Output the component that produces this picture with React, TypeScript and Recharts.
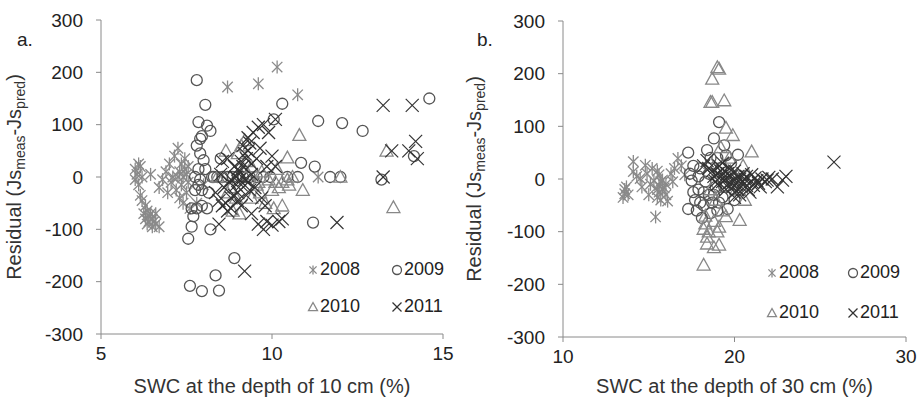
import React from 'react';
import { ScatterChart, Scatter, XAxis, YAxis, Label } from 'recharts';

// SWC 10 cm panel (a)
const a2008 = [
  [6.0, 15], [6.05, 5], [6.1, 25], [6.15, 20], [6.0, -5], [6.1, -15], [6.2, 0], [6.15, -35],
  [6.2, -45], [6.3, -55], [6.35, -65], [6.4, -75], [6.45, -70], [6.5, -80], [6.55, -85],
  [6.6, -90], [6.5, -95], [6.4, -85], [6.3, -80], [6.6, -70], [6.7, -95], [6.45, 5], [6.7, -20],
  [6.8, -5], [6.9, 10], [7.0, 25], [7.05, -10], [7.15, 40], [7.25, 55], [7.3, 10], [7.35, 25],
  [7.4, 0], [7.45, 15], [7.5, 5], [7.2, -25], [7.3, -40], [7.4, -50], [7.5, -30], [7.55, -10],
  [7.6, -60], [7.35, -15], [7.1, 0], [6.95, -30], [8.7, 172], [9.6, 178], [10.15, 210],
  [10.75, 157], [11.35, 0], [8.0, -15], [7.8, -50], [7.45, 35], [7.55, 20], [7.25, 0],
  [6.25, -70], [6.35, -90],
];
const a2009 = [
  [7.8, 185], [8.05, 138], [7.85, 105], [8.1, 98], [8.2, 88], [7.95, 78], [7.9, 73], [7.8, 60],
  [7.9, 45], [8.0, 32], [7.85, 15], [7.75, 0], [7.85, -15], [7.75, -25], [7.65, -60], [7.8, -60],
  [7.95, -55], [8.1, -60], [7.65, -95], [7.55, -118], [8.2, -100], [7.6, -208], [7.95, -218],
  [8.35, -188], [8.45, -217], [8.9, -155], [8.25, 0], [8.4, 0], [8.55, 0], [8.7, 0], [8.85, 0],
  [9.0, 0], [9.15, 0], [9.35, 0], [9.55, 0], [9.75, 0], [9.95, 0], [8.5, 35], [10.3, 140],
  [10.05, 110], [11.35, 107], [12.05, 103], [12.65, 88], [14.6, 150], [10.85, 27], [11.25, 20],
  [11.7, 0], [12.0, 0], [13.2, -5], [14.15, 40], [11.2, -87], [8.15, -30], [7.95, -25],
  [10.45, 0], [10.75, 0], [7.7, -75], [7.9, -5], [8.05, 15], [8.3, 0], [9.25, 0],
];
const a2010 = [
  [10.8, 80], [10.45, 37], [10.15, 15], [10.3, -10], [10.5, -15], [10.6, 0], [10.9, -25],
  [10.3, -55], [13.55, -58], [13.35, 50], [12.0, 0], [9.55, -15], [9.65, -30], [9.8, -50],
  [9.25, 30], [9.0, 45], [8.65, 50], [8.85, -65], [9.05, -70], [8.4, 0], [9.4, 20], [10.0, -25],
  [9.9, -5], [10.05, -60], [9.2, 70], [8.95, -40], [9.7, 10], [10.2, -20], [10.45, -5],
  [9.4, -40], [8.7, -30], [9.1, 60], [9.3, 5], [8.8, -20], [9.6, -10], [10.1, -10],
];
const a2011 = [
  [8.55, -55], [8.7, -65], [8.8, -60], [8.45, -45], [8.35, -30], [8.6, -20], [8.75, -10],
  [8.95, 0], [9.05, 10], [9.15, 20], [9.25, 35], [9.3, 50], [9.15, 60], [9.3, 75], [9.45, 85],
  [9.6, 95], [9.75, 100], [9.9, 85], [10.1, 110], [9.0, -30], [9.1, -15], [8.9, 20], [8.7, 35],
  [8.55, 30], [9.0, -45], [9.5, -20], [9.4, -70], [9.6, -90], [9.75, -100], [9.85, -85],
  [10.0, -92], [10.2, -85], [9.8, -55], [10.0, 40], [10.1, 20], [9.2, -180], [8.45, -90],
  [11.9, -87], [13.25, 137], [14.1, 137], [13.25, 0], [13.5, 50], [14.0, 50], [14.2, 68],
  [14.25, 35], [8.8, -5], [9.2, -5], [9.3, -10], [9.4, 5], [9.55, 35], [9.1, -55], [8.65, -50],
  [9.35, -25], [8.9, -35], [9.0, 15], [9.7, -40], [10.3, -80], [8.5, 5], [9.65, 55], [9.85, 20],
  [9.2, 45], [9.35, 65], [9.1, 30], [8.95, -15], [9.25, -35], [8.8, -40], [9.05, -5],
  [9.4, 25],
];

// SWC 30 cm panel (b)
const b2008 = [
  [13.5, -35], [13.6, -20], [13.7, -15], [14.1, 33], [14.1, 14], [14.3, 5], [14.5, 1],
  [14.8, 26], [14.9, 10], [15.1, -10], [15.3, -4], [15.5, -35], [15.4, -72], [15.6, 8],
  [15.7, -5], [15.8, -20], [15.9, -17], [16.0, -30], [16.1, -42], [15.6, -25], [15.7, -40],
  [16.3, 10], [16.5, 20], [16.7, 39], [16.9, 25], [17.1, 8], [14.6, -15], [15.0, -30],
  [15.5, 15], [16.4, -5], [13.8, -30], [15.2, 20], [15.6, -12], [15.8, -2], [15.5, -20],
  [16.0, -10], [13.6, -28],
];
const b2009 = [
  [17.3, 50], [17.3, -57], [17.7, -40], [17.5, -3], [17.4, 10], [18.8, 77], [19.1, 108],
  [19.4, 64], [18.6, 40], [20.2, 46], [19.6, -57], [18.1, -74], [18.5, -30], [17.9, -20],
  [18.0, 20], [18.3, -5], [18.7, -45], [19.0, -60], [19.3, -35], [19.8, 30], [19.0, 40],
  [18.2, -50], [17.6, 25], [17.8, -60], [18.9, -15], [19.5, 45], [20.0, -40], [18.4, 55],
  [18.6, -65], [19.2, 20], [17.9, 5], [18.2, -25], [18.5, 10], [18.8, -30], [19.4, -15],
  [17.6, -25], [18.0, -45], [19.1, -45],
];
const b2010 = [
  [19.0, 212], [19.1, 209], [18.7, 190], [18.6, 146], [18.7, 146], [19.4, 149], [19.5, 97],
  [19.9, 83], [21.0, 52], [20.3, -78], [18.2, -163], [18.4, -123], [19.1, -125], [18.2, -95],
  [19.1, -91], [19.5, -71], [18.4, -110], [19.0, 12], [19.8, 12], [20.6, -40], [18.8, -80],
  [18.5, -100], [19.3, -60], [18.9, -40], [19.7, 40], [18.3, -70], [20.1, -20], [19.2, 60],
  [18.6, 30], [20.5, 25], [18.8, -130], [18.3, -85], [19.0, -100], [18.6, -20],
];
const b2011 = [
  [18.2, 25], [18.5, 20], [18.7, 15], [19.0, 10], [19.2, 5], [19.5, 0], [19.8, -5], [20.1, -10],
  [20.4, -15], [20.7, -12], [21.0, -5], [21.3, -3], [21.6, 0], [21.9, -2], [22.2, 0],
  [22.5, -15], [23.0, 5], [22.8, -2], [19.0, -10], [19.5, -20], [20.0, -25], [20.3, -30],
  [19.7, 20], [20.0, 15], [20.5, 10], [21.0, 8], [19.3, 30], [18.9, -5], [20.8, -20],
  [21.5, -15], [25.8, 32], [19.6, -10], [20.2, 5], [20.6, 0], [21.2, 2], [18.4, 35], [19.4, 15],
  [20.9, -25], [19.9, -15], [20.3, 0], [21.4, -8], [19.1, 25], [21.8, -5], [20.0, -35],
  [22.0, 3], [18.8, 5], [19.3, -5], [19.6, 10], [20.1, 0], [20.5, -5], [19.8, 5],
  [20.7, 5], [21.1, -12], [20.2, -20], [19.2, 15],
];

const yTicks = [-300, -200, -100, 0, 100, 200, 300];
const aTicks = [5, 10, 15];
const bTicks = [10, 20, 30];
const years = ['2008', '2009', '2010', '2011'];

const FONT = '"Liberation Sans", Arial, sans-serif';
const toPts = (arr: number[][]) => arr.map(([x, y]) => ({ x, y }));

const Star = ({ cx, cy, s = 6.5 }: any) => (
  <g stroke="#8a8a8a" strokeWidth={1.3}>
    <line x1={cx} y1={cy - s} x2={cx} y2={cy + s} />
    <line x1={cx - s * 0.8} y1={cy - s * 0.8} x2={cx + s * 0.8} y2={cy + s * 0.8} />
    <line x1={cx - s * 0.8} y1={cy + s * 0.8} x2={cx + s * 0.8} y2={cy - s * 0.8} />
  </g>
);
const Ring = ({ cx, cy, s = 5.5 }: any) => (
  <circle cx={cx} cy={cy} r={s} fill="none" stroke="#555" strokeWidth={1.3} />
);
const Tri = ({ cx, cy, s = 6.5 }: any) => (
  <polygon
    points={`${cx},${cy - s} ${cx + s},${cy + s * 0.8} ${cx - s},${cy + s * 0.8}`}
    fill="none"
    stroke="#888"
    strokeWidth={1.3}
  />
);
const Cross = ({ cx, cy, s = 6.5 }: any) => (
  <g stroke="#333" strokeWidth={1.2}>
    <line x1={cx - s} y1={cy - s} x2={cx + s} y2={cy + s} />
    <line x1={cx - s} y1={cy + s} x2={cx + s} y2={cy - s} />
  </g>
);
const MARKERS = [Star, Ring, Tri, Cross];

const YTitle = ({ viewBox, dx }: any) => {
  const x = viewBox.x + dx;
  const y = viewBox.y + viewBox.height / 2;
  return (
    <text
      x={x}
      y={y}
      transform={`rotate(-90, ${x}, ${y})`}
      textAnchor="middle"
      fill="#333"
      fontSize={20}
      fontFamily={FONT}
    >
      <tspan>Residual (Js</tspan>
      <tspan dy={4} fontSize={14}>meas</tspan>
      <tspan dy={-4}>-Js</tspan>
      <tspan dy={4} fontSize={14}>pred</tspan>
      <tspan dy={-4}>)</tspan>
    </text>
  );
};

const MiniLegend = ({ left, top, gap, col }: any) => (
  <div style={{ position: 'absolute', left, top, fontFamily: FONT, fontSize: 18, color: '#222' }}>
    {years.map((yr, i) => {
      const M = MARKERS[i];
      return (
        <div
          key={yr}
          style={{
            position: 'absolute',
            left: (i % 2) * col,
            top: Math.floor(i / 2) * gap,
            display: 'flex',
            alignItems: 'center',
            whiteSpace: 'nowrap',
          }}
        >
          <svg width={12} height={12} style={{ marginRight: 1 }}>
            <M cx={6} cy={6} s={4.5} />
          </svg>
          {yr}
        </div>
      );
    })}
  </div>
);

const Panel = ({ series, domain, ticks, title, tag, left, width, margin, legend }: any) => (
  <div style={{ position: 'absolute', left, top: 0, width, height: 403 }}>
    <ScatterChart width={width} height={403} margin={margin}>
      <XAxis
        type="number"
        dataKey="x"
        domain={domain}
        ticks={ticks}
        height={margin.xh}
        stroke="#8a8a8a"
        tickSize={5}
        tickMargin={8}
        tick={{ fill: '#222', fontSize: 19, fontFamily: FONT }}
      >
        <Label
          value={title}
          position="insideBottom"
          offset={10}
          fill="#333"
          fontSize={20}
          fontFamily={FONT}
        />
      </XAxis>
      <YAxis
        type="number"
        dataKey="y"
        domain={[-300, 300]}
        ticks={yTicks}
        width={60}
        stroke="#8a8a8a"
        tickSize={5}
        tickMargin={13}
        tick={{ fill: '#222', fontSize: 19, fontFamily: FONT }}
      >
        <Label content={(p: any) => <YTitle {...p} dx={margin.ydx} />} />
      </YAxis>
      {series.map((d: number[][], i: number) => {
        const M = MARKERS[i];
        return (
          <Scatter
            key={years[i]}
            name={years[i]}
            data={toPts(d)}
            isAnimationActive={false}
            shape={(p: any) => <M cx={p.cx} cy={p.cy} />}
          />
        );
      })}
    </ScatterChart>
    <div
      style={{ position: 'absolute', left: 17, top: 29, fontFamily: FONT, fontSize: 19, color: '#222' }}
    >
      {tag}
    </div>
    <MiniLegend {...legend} />
  </div>
);

export default function App() {
  return (
    <div
      style={{ position: 'absolute', left: 0, top: 0, width: 921, height: 403, background: '#fff' }}
    >
      <Panel
        series={[a2008, a2009, a2010, a2011]}
        domain={[5, 15]}
        ticks={aTicks}
        title="SWC at the depth of 10 cm (%)"
        tag="a."
        left={0}
        width={460}
        margin={{ top: 20, right: 17, bottom: 0, left: 41, xh: 69, ydx: -20 }}
        legend={{ left: 307, top: 259, gap: 37, col: 84 }}
      />
      <Panel
        series={[b2008, b2009, b2010, b2011]}
        domain={[10, 30]}
        ticks={bTicks}
        title="SWC at the depth of 30 cm (%)"
        tag="b."
        left={460}
        width={461}
        margin={{ top: 21, right: 15, bottom: 0, left: 43, xh: 66, ydx: -22 }}
        legend={{ left: 306, top: 262, gap: 40, col: 81 }}
      />
    </div>
  );
}
